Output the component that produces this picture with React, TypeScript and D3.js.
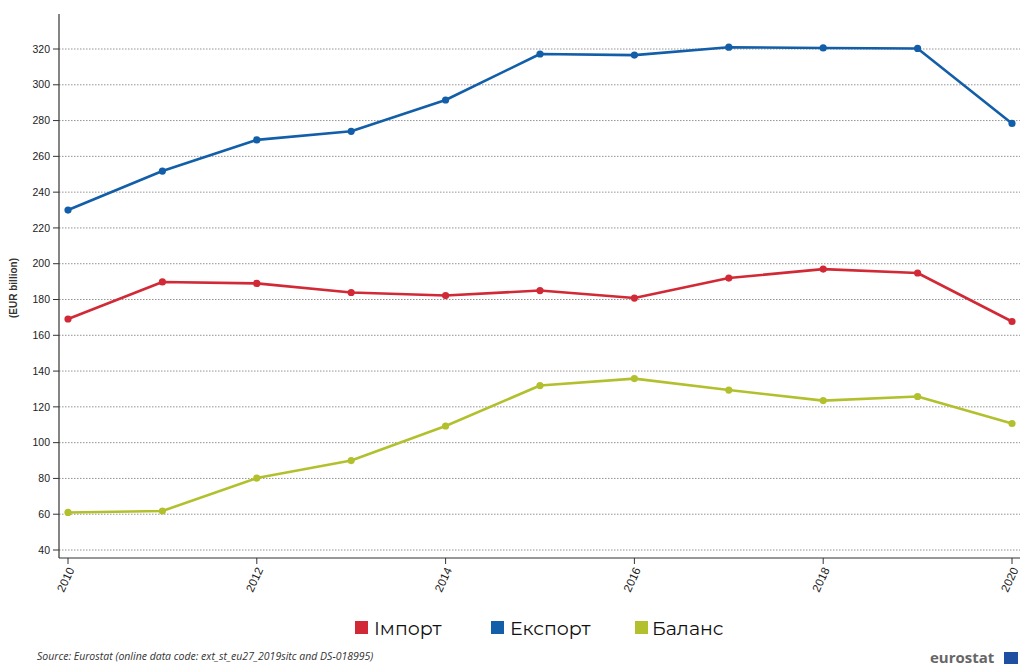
import React from "react";
import * as d3 from "d3";

const years = [2010, 2011, 2012, 2013, 2014, 2015, 2016, 2017, 2018, 2019, 2020];
const importVals = [169.1, 189.8, 189.0, 183.9, 182.2, 185.0, 180.8, 192.0, 197.0, 194.8, 167.7];
const exportVals = [230.0, 251.8, 269.2, 274.0, 291.5, 317.2, 316.6, 321.0, 320.6, 320.3, 278.4];
const balanceVals = [61.0, 61.8, 80.2, 90.0, 109.3, 131.9, 135.8, 129.4, 123.5, 125.8, 110.7];
const yTicks = [40, 60, 80, 100, 120, 140, 160, 180, 200, 220, 240, 260, 280, 300, 320];
const xTicks = [2010, 2012, 2014, 2016, 2018, 2020];

const series = [
  { name: "Імпорт", values: importVals, color: "#d12a36" },
  { name: "Експорт", values: exportVals, color: "#125ea8" },
  { name: "Баланс", values: balanceVals, color: "#b3c02e" },
];

export default function App() {
  const W = 1021, H = 666;
  const axisX = 59, right = 1020, top = 14, axisY = 558;
  const x = d3.scaleLinear().domain([2010, 2020]).range([68, 1012]);
  const y = d3.scaleLinear().domain([40, 320]).range([550, 49]);
  const line = d3.line<number>().x((_, i) => x(years[i])).y((v) => y(v));
  const legend = [
    { sq: 355, tx: 374 },
    { sq: 491, tx: 510 },
    { sq: 635, tx: 652 },
  ];
  return (
    <svg width={W} height={H} style={{ position: "absolute", left: 0, top: 0, background: "#fff" }}>
      <g fontFamily="Arial, 'Liberation Sans', sans-serif" fontSize={10.5} fill="#222">
        {yTicks.map((t) => (
          <g key={t}>
            <line x1={axisX} x2={right} y1={y(t)} y2={y(t)} stroke="#777" strokeWidth={0.8} strokeDasharray="1.5,1.5" />
            <line x1={axisX - 6} x2={axisX} y1={y(t)} y2={y(t)} stroke="#333" strokeWidth={1} />
            <text x={axisX - 9} y={y(t)} dy="0.35em" textAnchor="end">{t}</text>
          </g>
        ))}
        <line x1={axisX} x2={axisX} y1={top} y2={axisY} stroke="#333" strokeWidth={1.2} />
        <line x1={axisX} x2={right} y1={axisY} y2={axisY} stroke="#333" strokeWidth={1.2} />
        {xTicks.map((t) => (
          <g key={t} transform={`translate(${x(t)},${axisY})`}>
            <line y1={0} y2={6} stroke="#333" strokeWidth={1} />
            <text transform="translate(3,10) rotate(-65)" textAnchor="end" dy="0.35em" fontSize={11.5}>{t}</text>
          </g>
        ))}
        <text transform={`translate(17,288) rotate(-90)`} textAnchor="middle" fontSize={10} fontWeight="bold" fill="#333">(EUR billion)</text>
      </g>
      {series.map((s) => (
        <g key={s.name}>
          <path d={line(s.values) || ""} fill="none" stroke={s.color} strokeWidth={2.6} strokeLinejoin="round" />
          {s.values.map((v, i) => (
            <circle key={i} cx={x(years[i])} cy={y(v)} r={3.6} fill={s.color} />
          ))}
        </g>
      ))}
      {series.map((s, i) => (
        <g key={s.name}>
          <rect x={legend[i].sq} y={621} width={13} height={13} fill={s.color} />
          <text x={legend[i].tx} y={628} dy="0.35em" fontFamily="Montserrat, 'Open Sans', 'Noto Sans', sans-serif" fontSize={19} fill="#111">{s.name}</text>
        </g>
      ))}
      <text x={37} y={660} fontFamily="'Open Sans', sans-serif" fontStyle="italic" fontSize={10.5} fill="#333">
        Source: Eurostat (online data code: ext_st_eu27_2019sitc and DS-018995)
      </text>
      <g>
        <text x={930} y={663} fontFamily="'Open Sans', Arial, sans-serif" fontWeight="bold" fontSize={15} fill="#666">eurostat</text>
        <rect x={1004} y={652} width={14} height={12} fill="#1f4fa0" />
      </g>
    </svg>
  );
}
